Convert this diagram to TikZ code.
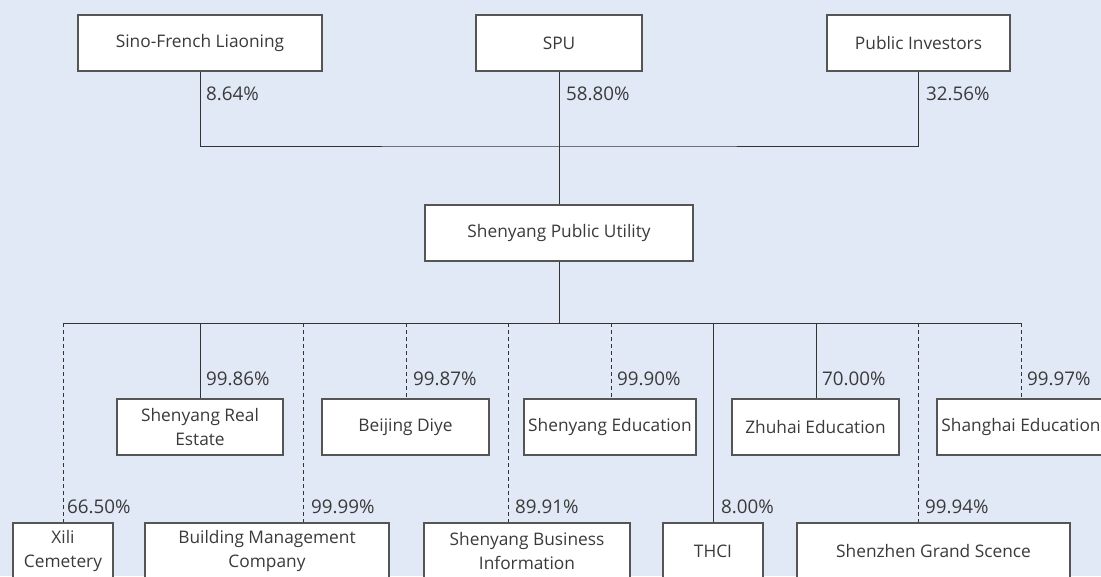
\documentclass[tikz,border=0pt]{standalone}
\usepackage{fontspec}
\setmainfont{Open Sans}
\definecolor{bg}{HTML}{E2E9F6}
\definecolor{ink}{HTML}{333333}
\definecolor{txt}{HTML}{3A3A3A}
\definecolor{edge}{HTML}{555555}
\begin{document}
\begin{tikzpicture}[x=1pt,y=-1pt,
  box/.style={draw=edge,line width=1.2pt,fill=white,inner sep=0pt,align=center,
    text=txt,font=\fontsize{17.3}{23.5}\selectfont,minimum height=56pt},
  pct/.style={anchor=west,inner sep=0pt,text=txt,font=\fontsize{18.8}{20}\selectfont},
  link/.style={draw=ink,line width=1pt},
  dlink/.style={draw=ink,line width=1pt,dash pattern=on 4pt off 3pt}]
\fill[bg] (0,0) rectangle (1101,576);
\useasboundingbox (0,0) rectangle (1101,576);
% top row
\node[box,minimum width=244pt] (sino) at (200,43) {Sino-French Liaoning};
\node[box,minimum width=166pt] (spu) at (559,43) {SPU};
\node[box,minimum width=183pt] (pub) at (918.5,43) {Public Investors};
\node[box,minimum width=268pt] (spuc) at (559,233) {Shenyang Public Utility};
% middle row
\node[box,minimum width=166pt] (sre) at (200,427) {Shenyang Real\\Estate};
\node[box,minimum width=167pt] (bjd) at (405.5,427) {Beijing Diye};
\node[box,minimum width=172pt] (sed) at (610,427) {Shenyang Education};
\node[box,minimum width=167pt] (zhe) at (815.5,427) {Zhuhai Education};
\node[box,minimum width=168pt] (she) at (1021,427) {Shanghai Education};
% bottom row
\node[box,minimum width=100pt] (xili) at (63,551) {Xili\\Cemetery};
\node[box,minimum width=244pt] (bmc) at (267,551) {Building Management\\Company};
\node[box,minimum width=206pt] (sbi) at (527,551) {Shenyang Business\\Information};
\node[box,minimum width=100pt] (thci) at (713,551) {THCI};
\node[box,minimum width=273pt] (szg) at (933.5,551) {Shenzhen Grand Scence};
% top connectors
\coordinate (jt) at (559,146);
\draw[link] (sino.south) |- (jt) -| (pub.south);
\draw[link] (spu.south) -- (spuc.north);
% bus
\coordinate (b1) at (63,323);
\coordinate (b2) at (200,323);
\coordinate (b3) at (303,323);
\coordinate (b4) at (406,323);
\coordinate (b5) at (508,323);
\coordinate (b6) at (611,323);
\coordinate (b7) at (713,323);
\coordinate (b8) at (816,323);
\coordinate (b9) at (918,323);
\coordinate (b10) at (1021,323);
\draw[link] (b1) -- (b10);
\draw[link] (spuc.south) -- (spuc.south |- b1);
\draw[dlink] (b1) -- (b1 |- xili.north);
\draw[link] (b2) -- (b2 |- sre.north);
\draw[dlink] (b3) -- (b3 |- bmc.north);
\draw[dlink] (b4) -- (b4 |- bjd.north);
\draw[dlink] (b5) -- (b5 |- sbi.north);
\draw[dlink] (b6) -- (b6 |- sed.north);
\draw[link] (b7) -- (b7 |- thci.north);
\draw[link] (b8) -- (b8 |- zhe.north);
\draw[dlink] (b9) -- (b9 |- szg.north);
\draw[dlink] (b10) -- (b10 |- she.north);
% percentages
\node[pct] (p1) at (206,94) {8.64\%};
\node[pct] (p2) at (566,94) {58.80\%};
\node[pct] (p3) at (926,94) {32.56\%};
\node[pct] (q2) at (206,379) {99.86\%};
\node[pct] (q4) at (413,379) {99.87\%};
\node[pct] (q6) at (617,379) {99.90\%};
\node[pct] (q8) at (822,379) {70.00\%};
\node[pct] (q10) at (1027,379) {99.97\%};
\node[pct] (q1) at (67,507) {66.50\%};
\node[pct] (q3) at (311,507) {99.99\%};
\node[pct] (q5) at (515,507) {89.91\%};
\node[pct] (q7) at (721,507) {8.00\%};
\node[pct] (q9) at (925,507) {99.94\%};
\end{tikzpicture}
\end{document}
